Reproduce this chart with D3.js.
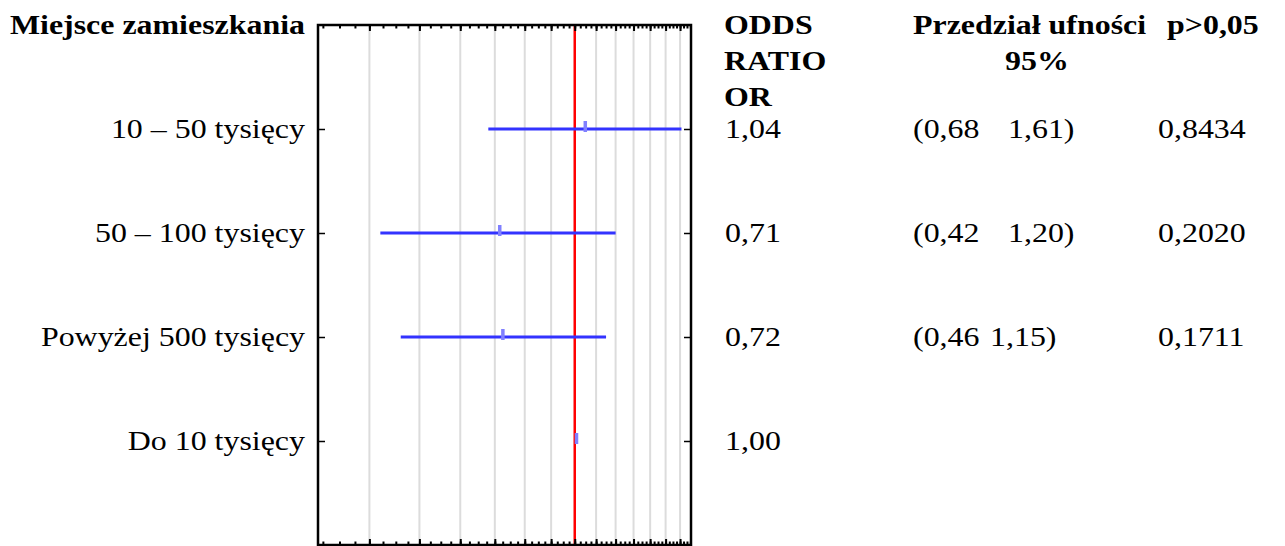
<!DOCTYPE html>
<html><head><meta charset="utf-8">
<script src="https://cdn.jsdelivr.net/npm/d3@7"></script>
<style>html,body{margin:0;padding:0;background:#fff;}svg{display:block;}</style>
</head><body>
<script>
const categories = ["10 – 50 tysięcy", "50 – 100 tysięcy", "Powyżej 500 tysięcy", "Do 10 tysięcy"];
const orValues = [1.04, 0.71, 0.72, 1.00];
const ciLow = [0.68, 0.42, 0.46, null];
const ciHigh = [1.61, 1.20, 1.15, null];
const orLabels = ["1,04", "0,71", "0,72", "1,00"];
const ciLowLabels = ["(0,68", "(0,42", "(0,46", ""];
const ciHighLabels = ["1,61)", "1,20)", "1,15)", ""];
const pLabels = ["0,8434", "0,2020", "0,1711", ""];
const gridValues = [0.4, 0.5, 0.6, 0.7, 0.8, 0.9, 1.1, 1.2, 1.3, 1.4, 1.5, 1.6];
const refValue = 1.0;
const minorTicks = d3.range(13, 68).map(i => +(i * 0.025).toFixed(3));
const majorTicks = d3.range(4, 17).map(i => +(i * 0.1).toFixed(1));
const headerLabel = "Miejsce zamieszkania";
const orHeader = ["ODDS", "RATIO", "OR"];
const ciHeader = ["Przedział ufności", "95%"];
const pHeader = "p>0,05";

const W = 1285, H = 546;
const L = 318, R = 691, T = 25, B = 545;
const SX = 1.14, FS = 28;

const svg = d3.select("body").append("svg").attr("width", W).attr("height", H)
  .style("font-family", "'Liberation Serif','Times New Roman',serif");

const x = d3.scaleLog().domain([0.318, 1.68]).range([L, R]);
const y = d3.scalePoint().domain(categories).range([T, B]).padding(1);

// grid
svg.append("g").selectAll("line").data(gridValues).join("line")
  .attr("x1", d => x(d)).attr("x2", d => x(d)).attr("y1", T).attr("y2", B)
  .attr("stroke", "#dcdcdc").attr("stroke-width", 2);

// reference line
svg.append("line").attr("x1", x(refValue)).attr("x2", x(refValue)).attr("y1", T).attr("y2", B)
  .attr("stroke", "#ff0000").attr("stroke-width", 2.5);

// axes ticks (inward)
function tickAxis(gen, tx, ty, vals, size, sw) {
  const g = svg.append("g").attr("transform", `translate(${tx},${ty})`)
    .call(gen.tickValues(vals).tickSize(size).tickFormat(""));
  g.select(".domain").remove();
  g.selectAll("line").attr("stroke", "#000").attr("stroke-width", sw);
}
tickAxis(d3.axisBottom(x), 0, T, minorTicks, 3.5, 2);
tickAxis(d3.axisBottom(x), 0, T, majorTicks, 6, 2);
tickAxis(d3.axisTop(x), 0, B, minorTicks, 3.5, 2);
tickAxis(d3.axisTop(x), 0, B, majorTicks, 6, 2);
tickAxis(d3.axisRight(y), L, 0, categories, 7, 1.5);
tickAxis(d3.axisLeft(y), R, 0, categories, 7, 1.5);

// box
svg.append("rect").attr("x", L).attr("y", T).attr("width", R - L).attr("height", B - T)
  .attr("fill", "none").attr("stroke", "#000").attr("stroke-width", 2.5);

// CI lines and OR markers
categories.forEach((c, i) => {
  if (ciLow[i] != null) {
    svg.append("line").attr("x1", x(ciLow[i])).attr("x2", x(ciHigh[i]))
      .attr("y1", y(c)).attr("y2", y(c))
      .attr("stroke", "#3333ff").attr("stroke-width", 2.8);
  }
  svg.append("rect").attr("x", x(orValues[i])).attr("y", y(c) - 8)
    .attr("width", 3.5).attr("height", 11).attr("fill", "#8080ff");
});

// text helper
function txt(s, tx, ty, anchor, bold) {
  svg.append("text").attr("transform", `translate(${tx},${ty}) scale(${SX},1)`)
    .attr("text-anchor", anchor || "start")
    .attr("font-size", FS).attr("font-weight", bold ? "bold" : "normal")
    .attr("fill", "#000").text(s);
}

// headers
txt(headerLabel, 305, 34, "end", true);
orHeader.forEach((s, i) => txt(s, 724, 34 + i * 36, "start", true));
txt(ciHeader[0], 913, 34, "start", true);
txt(ciHeader[1], 1037, 70, "middle", true);
txt(pHeader, 1167, 34, "start", true);

// rows
categories.forEach((c, i) => {
  const yy = y(c) + 9;
  txt(c, 305, yy, "end", false);
  txt(orLabels[i], 725, yy, "start", false);
  if (ciLowLabels[i]) txt(ciLowLabels[i], 913, yy, "start", false);
  if (ciHighLabels[i]) txt(ciHighLabels[i], i === 2 ? 990 : 1008, yy, "start", false);
  if (pLabels[i]) txt(pLabels[i], 1158, yy, "start", false);
});
</script>
</body></html>
